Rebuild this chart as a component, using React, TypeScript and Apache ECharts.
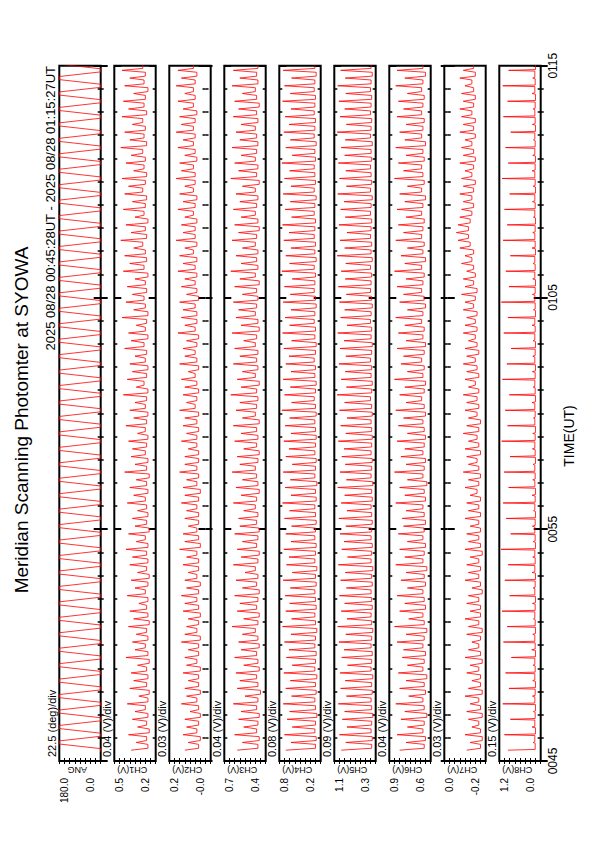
import React, { useEffect, useRef } from 'react';
import * as echarts from 'echarts';

// seconds after 00:45:00 at each scan turn-around
const turnSec = [28,48,68,88,108,128,148,168,188,208,228,248,268,288,308,328,348,368,388,408,428,448,468,488,508,528,548,568,588,608,628,648,668,688,708,728,748,768,788,808,828,848,868,888,908,928,948,968,988,1008,1028,1048,1068,1088,1108,1128,1148,1168,1188,1208,1228,1248,1268,1288,1308,1328,1348,1368,1388,1408,1428,1448,1468,1488,1508,1528,1548,1568,1588,1608,1628,1648,1668,1688,1708,1728,1748,1768,1788,1808,1828];
// seconds the scanner rests at each end before/after the turn
const dwellSec = 4;

const angTurns = [0,180,0,180,0,180,0,180,0,180,0,180,0,180,0,180,0,180,0,180,0,180,0,180,0,180,0,180,0,180,0,180,0,180,0,180,0,180,0,180,0,180,0,180,0,180,0,180,0,180,0,180,0,180,0,180,0,180,0,180,0,180,0,180,0,180,0,180,0,180,0,180,0,180,0,180,0,180,0,180,0,180,0,180,0,180,0,180,0,180,0];

const ch1Peaks = [0.39,0.35,0.41,0.34,0.38,0.36,0.42,0.33,0.40,0.37,0.39,0.34,0.43,0.36,0.38,0.35,0.41,0.37,0.40,0.33,0.42,0.36,0.39,0.34,0.40,0.38,0.43,0.35,0.41,0.36,0.38,0.34,0.42,0.37,0.40,0.35,0.44,0.36,0.39,0.38,0.41,0.34,0.43,0.37,0.40,0.36,0.45,0.35,0.42,0.38,0.40,0.36,0.44,0.39,0.41,0.35,0.46,0.37,0.43,0.38,0.42,0.36,0.45,0.40,0.44,0.37,0.47,0.39,0.43,0.36,0.45,0.38,0.44,0.41,0.46,0.37,0.43,0.39,0.47,0.40,0.44,0.38,0.46,0.41,0.45,0.37,0.44,0.40,0.46,0.39,0.43];
const ch1Floors = [0.26,0.27,0.25,0.27,0.26,0.28,0.26,0.25,0.27,0.26,0.27,0.25,0.26,0.28,0.26,0.27,0.25,0.26,0.27,0.26,0.28,0.26,0.25,0.27,0.26,0.27,0.26,0.28,0.25,0.27,0.26,0.27,0.28,0.26,0.27,0.25,0.27,0.26,0.28,0.27,0.26,0.28,0.27,0.26,0.28,0.27,0.26,0.29,0.27,0.26,0.28,0.27,0.29,0.26,0.28,0.27,0.26,0.28,0.29,0.27,0.28,0.26,0.29,0.27,0.28,0.30,0.27,0.28,0.26,0.29,0.28,0.27,0.30,0.28,0.27,0.29,0.28,0.30,0.27,0.29,0.28,0.30,0.27,0.29,0.28,0.26,0.29,0.28,0.30,0.27];

const ch2Peaks = [0.12,0.10,0.13,0.11,0.12,0.09,0.14,0.11,0.12,0.10,0.13,0.11,0.12,0.10,0.14,0.12,0.11,0.10,0.13,0.12,0.14,0.11,0.12,0.10,0.13,0.11,0.15,0.12,0.13,0.10,0.12,0.11,0.14,0.12,0.13,0.11,0.15,0.12,0.12,0.10,0.14,0.11,0.13,0.12,0.15,0.11,0.13,0.12,0.14,0.10,0.15,0.12,0.13,0.11,0.16,0.12,0.14,0.13,0.15,0.11,0.14,0.12,0.16,0.13,0.15,0.12,0.17,0.13,0.14,0.12,0.16,0.13,0.15,0.12,0.17,0.14,0.15,0.12,0.16,0.13,0.17,0.14,0.15,0.13,0.16,0.12,0.17,0.14,0.16,0.13,0.15];
const ch2Floors = [0.04,0.03,0.05,0.04,0.03,0.04,0.05,0.03,0.04,0.04,0.03,0.05,0.04,0.04,0.03,0.05,0.04,0.03,0.04,0.05,0.04,0.03,0.05,0.04,0.04,0.05,0.03,0.04,0.05,0.04,0.04,0.05,0.04,0.03,0.05,0.04,0.05,0.04,0.04,0.05,0.05,0.04,0.05,0.04,0.06,0.05,0.04,0.05,0.06,0.04,0.05,0.06,0.05,0.04,0.06,0.05,0.05,0.06,0.04,0.05,0.06,0.05,0.06,0.05,0.07,0.05,0.06,0.06,0.05,0.07,0.06,0.05,0.07,0.06,0.06,0.07,0.05,0.06,0.07,0.06,0.07,0.06,0.05,0.07,0.06,0.07,0.06,0.05,0.07,0.06];

const ch3Peaks = [0.62,0.58,0.64,0.57,0.61,0.59,0.65,0.56,0.62,0.60,0.63,0.57,0.64,0.59,0.61,0.58,0.66,0.57,0.62,0.60,0.64,0.58,0.63,0.56,0.65,0.59,0.62,0.58,0.64,0.60,0.61,0.57,0.65,0.59,0.63,0.58,0.66,0.60,0.62,0.57,0.64,0.59,0.65,0.58,0.63,0.60,0.67,0.59,0.62,0.58,0.65,0.60,0.64,0.57,0.66,0.59,0.63,0.61,0.65,0.58,0.64,0.60,0.67,0.59,0.63,0.58,0.66,0.61,0.64,0.59,0.65,0.60,0.63,0.58,0.67,0.61,0.64,0.59,0.66,0.60,0.63,0.59,0.65,0.61,0.64,0.58,0.66,0.60,0.65,0.59,0.64];
const ch3Floors = [0.46,0.45,0.47,0.46,0.45,0.47,0.46,0.44,0.46,0.47,0.45,0.46,0.47,0.45,0.46,0.48,0.46,0.45,0.47,0.46,0.45,0.47,0.46,0.48,0.46,0.45,0.47,0.46,0.45,0.47,0.46,0.48,0.47,0.45,0.46,0.47,0.48,0.46,0.45,0.47,0.46,0.47,0.45,0.48,0.47,0.46,0.47,0.45,0.48,0.46,0.47,0.46,0.48,0.47,0.45,0.46,0.48,0.47,0.46,0.47,0.45,0.48,0.46,0.47,0.46,0.48,0.47,0.45,0.46,0.48,0.47,0.46,0.48,0.45,0.47,0.46,0.48,0.47,0.46,0.47,0.48,0.46,0.47,0.45,0.47,0.48,0.46,0.47,0.46,0.48];

const ch4Peaks = [0.70,0.62,0.72,0.60,0.68,0.64,0.74,0.61,0.70,0.63,0.73,0.60,0.69,0.65,0.72,0.62,0.75,0.61,0.70,0.64,0.71,0.63,0.74,0.60,0.69,0.65,0.73,0.62,0.70,0.61,0.72,0.64,0.75,0.62,0.71,0.63,0.74,0.60,0.70,0.65,0.73,0.62,0.71,0.64,0.76,0.61,0.72,0.63,0.74,0.62,0.70,0.65,0.73,0.61,0.75,0.64,0.71,0.62,0.74,0.63,0.72,0.60,0.76,0.64,0.70,0.62,0.73,0.65,0.75,0.61,0.71,0.63,0.74,0.62,0.72,0.64,0.76,0.60,0.70,0.63,0.73,0.65,0.71,0.62,0.75,0.63,0.72,0.61,0.74,0.64,0.70];
const ch4Floors = [0.24,0.23,0.25,0.24,0.22,0.24,0.25,0.23,0.24,0.22,0.25,0.24,0.23,0.25,0.24,0.22,0.24,0.25,0.23,0.24,0.25,0.23,0.24,0.22,0.25,0.24,0.23,0.25,0.24,0.23,0.24,0.25,0.23,0.24,0.22,0.25,0.24,0.23,0.25,0.24,0.23,0.24,0.25,0.23,0.24,0.26,0.24,0.23,0.25,0.24,0.26,0.24,0.23,0.25,0.24,0.26,0.25,0.23,0.24,0.26,0.25,0.24,0.26,0.23,0.25,0.24,0.26,0.25,0.24,0.26,0.25,0.23,0.26,0.24,0.25,0.26,0.24,0.25,0.23,0.26,0.25,0.24,0.26,0.25,0.24,0.26,0.25,0.23,0.25,0.26];

const ch5Peaks = [0.94,0.86,0.97,0.84,0.92,0.88,0.99,0.85,0.95,0.87,0.96,0.83,0.93,0.89,0.98,0.86,1.00,0.84,0.94,0.88,0.97,0.85,0.95,0.87,0.99,0.83,0.93,0.89,0.96,0.86,0.98,0.84,0.94,0.88,1.00,0.85,0.96,0.87,0.93,0.89,0.99,0.86,0.95,0.84,0.97,0.88,1.01,0.85,0.94,0.87,0.98,0.86,0.96,0.89,1.00,0.84,0.95,0.88,0.97,0.85,0.99,0.87,0.94,0.86,1.01,0.88,0.96,0.84,0.98,0.87,0.95,0.89,1.00,0.85,0.97,0.86,0.99,0.88,0.94,0.87,1.01,0.85,0.96,0.88,0.98,0.86,1.00,0.87,0.95,0.89,0.97];
const ch5Floors = [0.41,0.40,0.42,0.41,0.39,0.41,0.42,0.40,0.41,0.39,0.42,0.41,0.40,0.42,0.41,0.39,0.41,0.42,0.40,0.41,0.42,0.40,0.41,0.39,0.42,0.41,0.40,0.42,0.41,0.40,0.41,0.42,0.40,0.41,0.39,0.42,0.41,0.40,0.42,0.41,0.40,0.41,0.42,0.40,0.41,0.43,0.41,0.40,0.42,0.41,0.43,0.41,0.40,0.42,0.41,0.43,0.42,0.40,0.41,0.43,0.42,0.41,0.43,0.40,0.42,0.41,0.43,0.42,0.41,0.43,0.42,0.40,0.43,0.41,0.42,0.43,0.41,0.42,0.40,0.43,0.42,0.41,0.43,0.42,0.41,0.43,0.42,0.40,0.42,0.43];

const ch6Peaks = [0.82,0.77,0.84,0.76,0.81,0.78,0.85,0.75,0.82,0.77,0.83,0.76,0.80,0.79,0.84,0.77,0.86,0.75,0.82,0.78,0.84,0.76,0.81,0.77,0.85,0.78,0.82,0.76,0.83,0.79,0.80,0.77,0.85,0.78,0.82,0.76,0.86,0.77,0.81,0.78,0.84,0.76,0.83,0.79,0.85,0.77,0.82,0.78,0.86,0.76,0.81,0.79,0.84,0.77,0.83,0.78,0.85,0.76,0.82,0.79,0.84,0.77,0.86,0.78,0.81,0.76,0.85,0.79,0.83,0.77,0.84,0.78,0.82,0.76,0.86,0.79,0.83,0.77,0.85,0.78,0.82,0.77,0.84,0.79,0.83,0.76,0.85,0.78,0.84,0.77,0.83];
const ch6Floors = [0.63,0.62,0.64,0.63,0.61,0.63,0.64,0.62,0.63,0.61,0.64,0.63,0.62,0.64,0.63,0.61,0.63,0.64,0.62,0.63,0.64,0.62,0.63,0.61,0.64,0.63,0.62,0.64,0.63,0.62,0.63,0.64,0.62,0.63,0.61,0.64,0.63,0.62,0.64,0.63,0.62,0.63,0.64,0.62,0.63,0.65,0.63,0.62,0.64,0.63,0.65,0.63,0.62,0.64,0.63,0.65,0.64,0.62,0.63,0.65,0.64,0.63,0.65,0.62,0.64,0.63,0.65,0.64,0.63,0.65,0.64,0.62,0.65,0.63,0.64,0.65,0.63,0.64,0.62,0.65,0.64,0.63,0.65,0.64,0.63,0.65,0.64,0.62,0.64,0.65];

const ch7Peaks = [-0.11,-0.13,-0.10,-0.14,-0.12,-0.11,-0.13,-0.10,-0.12,-0.14,-0.11,-0.13,-0.10,-0.12,-0.14,-0.11,-0.12,-0.10,-0.13,-0.11,-0.12,-0.14,-0.10,-0.12,-0.11,-0.13,-0.10,-0.12,-0.11,-0.13,-0.10,-0.12,-0.11,-0.13,-0.10,-0.12,-0.09,-0.12,-0.11,-0.10,-0.12,-0.09,-0.11,-0.12,-0.10,-0.11,-0.09,-0.12,-0.10,-0.11,-0.09,-0.11,-0.10,-0.12,-0.09,-0.10,-0.11,-0.09,-0.10,-0.08,-0.10,-0.09,-0.11,-0.08,-0.10,-0.07,-0.06,-0.05,-0.06,-0.07,-0.08,-0.09,-0.07,-0.09,-0.08,-0.10,-0.07,-0.09,-0.08,-0.10,-0.07,-0.09,-0.08,-0.07,-0.09,-0.08,-0.10,-0.07,-0.09,-0.08,-0.09];
const ch7Floors = [-0.19,-0.20,-0.19,-0.18,-0.20,-0.19,-0.18,-0.20,-0.19,-0.19,-0.18,-0.20,-0.19,-0.18,-0.19,-0.20,-0.18,-0.19,-0.19,-0.18,-0.20,-0.19,-0.18,-0.19,-0.18,-0.20,-0.19,-0.18,-0.19,-0.18,-0.19,-0.18,-0.19,-0.17,-0.18,-0.19,-0.18,-0.17,-0.19,-0.18,-0.17,-0.18,-0.19,-0.17,-0.18,-0.17,-0.18,-0.16,-0.18,-0.17,-0.16,-0.18,-0.17,-0.16,-0.17,-0.16,-0.17,-0.15,-0.16,-0.17,-0.15,-0.16,-0.15,-0.14,-0.15,-0.13,-0.12,-0.12,-0.13,-0.14,-0.15,-0.14,-0.15,-0.16,-0.14,-0.15,-0.16,-0.15,-0.14,-0.16,-0.15,-0.16,-0.14,-0.15,-0.16,-0.15,-0.14,-0.16,-0.15,-0.16];

const ch8Peaks = [0.95,0.22,1.05,0.25,0.88,0.21,1.10,0.24,0.92,0.23,1.02,0.22,0.85,0.26,1.08,0.23,0.97,0.21,1.12,0.24,0.90,0.22,1.04,0.25,0.94,0.23,1.15,0.22,0.87,0.24,1.00,0.21,1.09,0.25,0.93,0.23,1.06,0.22,0.89,0.24,1.13,0.23,0.96,0.21,1.03,0.25,0.91,0.22,1.11,0.24,0.98,0.23,0.86,0.22,1.07,0.25,0.95,0.21,1.14,0.24,0.92,0.23,1.01,0.22,0.88,0.25,1.09,0.23,0.97,0.21,1.05,0.24,0.90,0.22,1.12,0.25,0.94,0.23,1.02,0.21,0.87,0.24,1.08,0.22,0.96,0.25,1.10,0.23,0.93,0.22,1.04];
const ch8Floors = [0.16,0.17,0.15,0.17,0.16,0.15,0.17,0.16,0.15,0.17,0.16,0.17,0.15,0.16,0.17,0.15,0.16,0.17,0.16,0.15,0.17,0.16,0.15,0.17,0.16,0.17,0.15,0.16,0.17,0.16,0.15,0.17,0.16,0.15,0.17,0.16,0.17,0.15,0.16,0.17,0.16,0.15,0.17,0.16,0.17,0.15,0.16,0.17,0.16,0.15,0.17,0.16,0.15,0.17,0.16,0.17,0.15,0.16,0.17,0.16,0.15,0.17,0.16,0.17,0.15,0.16,0.17,0.16,0.15,0.17,0.16,0.17,0.15,0.16,0.17,0.16,0.15,0.17,0.16,0.17,0.15,0.16,0.17,0.16,0.15,0.17,0.16,0.17,0.15,0.16];

const panelNames = ['ANG', 'CH1(V)', 'CH2(V)', 'CH3(V)', 'CH4(V)', 'CH5(V)', 'CH6(V)', 'CH7(V)', 'CH8(V)'];
const divLabels = ['22.5 (deg)/div', '0.04 (V)/div', '0.03 (V)/div', '0.04 (V)/div', '0.08 (V)/div', '0.09 (V)/div', '0.04 (V)/div', '0.03 (V)/div', '0.15 (V)/div'];
const divSize = [22.5, 0.04, 0.03, 0.04, 0.08, 0.09, 0.04, 0.03, 0.15];
const axisMin = [0, 0.2, -0.03, 0.4, 0.16, 0.34, 0.58, -0.22, 0];
const topLabels = ['180.0', '0.5', '0.2', '0.7', '0.8', '1.1', '0.9', '0.0', '1.2'];
const bottomLabels = ['0.0', '0.2', '-0.0', '0.4', '0.2', '0.3', '0.6', '-0.2', '0.0'];
const timeTickLabels = ['0045', '0055', '0105', '0115'];

const TITLE = 'Meridian Scanning Photomter at SYOWA';
const SUBTITLE = '2025 08/28 00:45:28UT - 2025 08/28 01:15:27UT';

// layout (portrait page, time runs bottom -> top)
const LEFT0 = 59.3;
const STEP = 55;
const PW = 41.4;
const PTOP = 65.7;
const PH = 695.3;
const FONT = '"Liberation Sans", Arial, Helvetica, sans-serif';
const RED = '#ff0000';

function trace(peaks: number[], floors: number[], w: number) {
  const pts: number[][] = [];
  for (let k = 0; k < floors.length; k++) {
    pts.push([peaks[k], turnSec[k]]);
    pts.push([floors[k], turnSec[k] + w]);
    pts.push([floors[k], turnSec[k + 1] - w]);
  }
  pts.push([peaks[peaks.length - 1], turnSec[turnSec.length - 1]]);
  return pts;
}

function angTrace() {
  const pts: number[][] = [];
  for (let k = 0; k < turnSec.length; k++) {
    pts.push([angTurns[k], turnSec[k] - dwellSec]);
    pts.push([angTurns[k], turnSec[k] + dwellSec]);
  }
  return pts;
}

export default function App() {
  const ref = useRef<HTMLDivElement>(null);
  useEffect(() => {
    const chart = echarts.init(ref.current!, null, { renderer: 'svg' });
    const seriesData: number[][][] = [
      angTrace(),
      trace(ch1Peaks, ch1Floors, 5),
      trace(ch2Peaks, ch2Floors, 5),
      trace(ch3Peaks, ch3Floors, 5),
      trace(ch4Peaks, ch4Floors, 5),
      trace(ch5Peaks, ch5Floors, 5),
      trace(ch6Peaks, ch6Floors, 5),
      trace(ch7Peaks, ch7Floors, 5),
      trace(ch8Peaks, ch8Floors, 2),
    ];
    const grids: any[] = [];
    const xAxes: any[] = [];
    const yAxes: any[] = [];
    const series: any[] = [];
    const graphics: any[] = [];
    for (let i = 0; i < 9; i++) {
      const left = LEFT0 + STEP * i;
      grids.push({ left, top: PTOP, width: PW, height: PH, show: true, borderColor: '#000', borderWidth: 2, backgroundColor: 'transparent' });
      const mn = axisMin[i];
      const mx = +(mn + 8 * divSize[i]).toFixed(4);
      for (const pos of ['bottom', 'top']) {
        xAxes.push({
          gridIndex: i, type: 'value', position: pos, inverse: true, min: mn, max: mx, interval: divSize[i],
          axisLine: { show: false }, axisLabel: { show: false }, splitLine: { show: false },
          axisTick: { show: true, inside: true, length: 3, lineStyle: { color: '#000', width: 1 } },
        });
      }
      for (const pos of ['left', 'right']) {
        const showLab = i === 8 && pos === 'right';
        yAxes.push({
          gridIndex: i, type: 'value', position: pos, min: 0, max: 1800, interval: 600,
          axisLine: { show: false }, splitLine: { show: false },
          axisTick: { show: true, inside: true, length: 7, lineStyle: { color: '#000', width: 2 } },
          minorTick: { show: true, splitNumber: 10, length: 3, lineStyle: { color: '#000', width: 1.5 } },
          axisLabel: {
            show: showLab, rotate: 90, margin: 6, fontSize: 12, color: '#000', fontFamily: FONT,
            showMinLabel: true, showMaxLabel: true,
            formatter: (v: number) => timeTickLabels[Math.round(v / 600)] ?? '',
          },
        });
      }
      series.push({
        type: 'line', xAxisIndex: 2 * i, yAxisIndex: 2 * i, data: seriesData[i],
        showSymbol: false, symbol: 'none', clip: true, silent: true,
        lineStyle: { color: RED, width: 0.8 },
      });
      graphics.push({ type: 'text', x: left - 1.5, y: 757, rotation: Math.PI / 2, silent: true,
        style: { text: divLabels[i], fill: '#000', font: `11px ${FONT}`, textAlign: 'left', textVerticalAlign: 'bottom' } });
      graphics.push({ type: 'text', x: left + 5, y: 778, rotation: Math.PI / 2, silent: true,
        style: { text: topLabels[i], fill: '#000', font: `10px ${FONT}`, textAlign: 'right', textVerticalAlign: 'middle' } });
      graphics.push({ type: 'text', x: left + 31, y: 778, rotation: Math.PI / 2, silent: true,
        style: { text: bottomLabels[i], fill: '#000', font: `10px ${FONT}`, textAlign: 'right', textVerticalAlign: 'middle' } });
      graphics.push({ type: 'text', x: left + 18, y: 770, rotation: Math.PI, silent: true,
        style: { text: panelNames[i], fill: '#000', font: `9px ${FONT}`, textAlign: 'center', textVerticalAlign: 'middle' } });
    }
    graphics.push({ type: 'text', x: 21, y: 420, rotation: Math.PI / 2, silent: true,
      style: { text: TITLE, fill: '#000', font: `19px ${FONT}`, textAlign: 'center', textVerticalAlign: 'middle' } });
    graphics.push({ type: 'text', x: 57, y: 66, rotation: Math.PI / 2, silent: true,
      style: { text: SUBTITLE, fill: '#000', font: `13px ${FONT}`, textAlign: 'right', textVerticalAlign: 'bottom' } });
    graphics.push({ type: 'text', x: 569, y: 436, rotation: Math.PI / 2, silent: true,
      style: { text: 'TIME(UT)', fill: '#000', font: `14px ${FONT}`, textAlign: 'center', textVerticalAlign: 'middle' } });

    chart.setOption({
      animation: false,
      backgroundColor: '#fff',
      grid: grids,
      xAxis: xAxes,
      yAxis: yAxes,
      series,
      graphic: graphics,
    });
    return () => chart.dispose();
  }, []);
  return <div ref={ref} style={{ position: 'absolute', left: 0, top: 0, width: 595, height: 842, background: '#fff' }} />;
}
